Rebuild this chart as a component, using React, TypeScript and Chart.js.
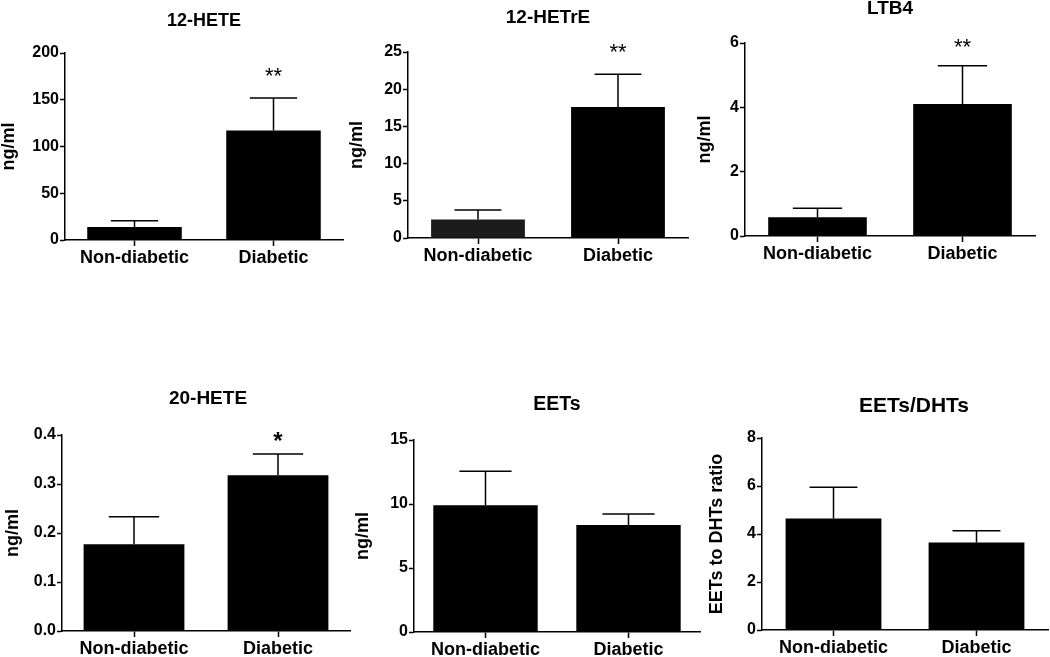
import React, { useEffect, useRef } from "react";
import { Chart, registerables } from "chart.js";

Chart.register(...registerables);

// ---------------- data ----------------
const categories = ["Non-diabetic", "Diabetic"];
const panelTitles = ["12-HETE", "12-HETrE", "LTB4", "20-HETE", "EETs", "EETs/DHTs"];
const yAxisTitles = ["ng/ml", "ng/ml", "ng/ml", "ng/ml", "ng/ml", "EETs to DHTs ratio"];

const hete12Mean = [14, 117];
const hete12Err = [6.5, 35];
const hetre12Mean = [2.5, 17.6];
const hetre12Err = [1.25, 4.4];
const ltb4Mean = [0.58, 4.1];
const ltb4Err = [0.28, 1.19];
const hete20Mean = [0.177, 0.318];
const hete20Err = [0.056, 0.043];
const eetsMean = [9.9, 8.35];
const eetsErr = [2.65, 0.87];
const ratioMean = [4.65, 3.65];
const ratioErr = [1.3, 0.49];

const significance = [
  ["", "**"],
  ["", "**"],
  ["", "**"],
  ["", "*"],
  ["", ""],
  ["", ""],
];

const yMax = [200, 25, 6, 0.4, 15, 8];
const yStep = [50, 5, 2, 0.1, 5, 2];

const means = [hete12Mean, hetre12Mean, ltb4Mean, hete20Mean, eetsMean, ratioMean];
const errs = [hete12Err, hetre12Err, ltb4Err, hete20Err, eetsErr, ratioErr];

// ---------------- layout / style ----------------
const W = 1050;
const H = 657;
const CANVAS_H = 740;
const Y_W = 40;
const X_H = 40;
const FONT = "'Liberation Sans', Arial, Helvetica, sans-serif";

const layouts = [
  { left: 65, top: 53, right: 343, bottom: 240, titleY: 21, titleDx: 0, titleSize: 18, yTitleX: 9, astOffset: 26, bar: 0.68, dec: 0 },
  { left: 408, top: 52, right: 688, bottom: 238, titleY: 18, titleDx: 0, titleSize: 19, yTitleX: 357, astOffset: 26, bar: 0.67, dec: 0 },
  { left: 745, top: 43, right: 1035, bottom: 236, titleY: 9, titleDx: 0, titleSize: 19, yTitleX: 705, astOffset: 23, bar: 0.68, dec: 0 },
  { left: 62, top: 435, right: 350, bottom: 631, titleY: 399, titleDx: 2, titleSize: 19, yTitleX: 13, astOffset: 19, bar: 0.7, dec: 1 },
  { left: 414, top: 440, right: 700, bottom: 632, titleY: 405, titleDx: 0, titleSize: 19.5, yTitleX: 363, astOffset: 20, bar: 0.73, dec: 0 },
  { left: 762, top: 438, right: 1048, bottom: 630, titleY: 406, titleDx: 9, titleSize: 21, yTitleX: 717, astOffset: 20, bar: 0.67, dec: 0 },
];

const barColors = [
  ["#000", "#000"],
  ["#1c1c1c", "#000"],
  ["#000", "#000"],
  ["#000", "#000"],
  ["#000", "#000"],
  ["#000", "#000"],
];

function makeConfig(i: number): any {
  const L = layouts[i];
  const mean = means[i];
  const err = errs[i];

  const annotate = {
    id: "annotate" + i,
    afterDatasetsDraw(chart: any) {
      const ctx = chart.ctx;
      const meta = chart.getDatasetMeta(0);
      const ys = chart.scales.y;
      ctx.save();
      ctx.strokeStyle = "#000";
      ctx.lineWidth = 1.5;
      meta.data.forEach((bar: any, k: number) => {
        const x = bar.x;
        const yTop = ys.getPixelForValue(mean[k]);
        const yErr = ys.getPixelForValue(mean[k] + err[k]);
        const cap = bar.width * 0.5;
        ctx.beginPath();
        ctx.moveTo(x, yTop);
        ctx.lineTo(x, yErr);
        ctx.moveTo(x - cap / 2, yErr);
        ctx.lineTo(x + cap / 2, yErr);
        ctx.stroke();
        const s = significance[i][k];
        if (s) {
          ctx.fillStyle = "#000";
          ctx.textAlign = "center";
          ctx.textBaseline = "middle";
          ctx.font = s === "*" ? `bold 24px ${FONT}` : `22px ${FONT}`;
          ctx.fillText(s, x, yErr - L.astOffset + (s === "*" ? 7 : 5));
        }
      });
      ctx.restore();
    },
    afterDraw(chart: any) {
      const ctx = chart.ctx;
      const ca = chart.chartArea;
      ctx.save();
      ctx.fillStyle = "#000";
      ctx.textAlign = "center";
      ctx.textBaseline = "middle";
      ctx.font = `bold ${L.titleSize}px ${FONT}`;
      ctx.fillText(panelTitles[i], (ca.left + ca.right) / 2 + L.titleDx, L.titleY);
      ctx.translate(L.yTitleX, (ca.top + ca.bottom) / 2);
      ctx.rotate(-Math.PI / 2);
      ctx.font = `bold 18px ${FONT}`;
      ctx.fillText(yAxisTitles[i], 0, 0);
      ctx.restore();
    },
  };

  return {
    type: "bar",
    data: {
      labels: categories,
      datasets: [
        {
          data: mean,
          backgroundColor: barColors[i],
          borderWidth: 0,
          barPercentage: L.bar,
          categoryPercentage: 1,
        },
      ],
    },
    options: {
      responsive: false,
      animation: false,
      devicePixelRatio: 1,
      events: [],
      layout: {
        padding: {
          left: L.left - Y_W,
          top: L.top,
          right: W - L.right,
          bottom: CANVAS_H - L.bottom - X_H,
        },
      },
      plugins: {
        legend: { display: false },
        title: { display: false },
        tooltip: { enabled: false },
      },
      scales: {
        x: {
          type: "category",
          offset: true,
          afterFit: (s: any) => {
            s.height = X_H;
          },
          grid: {
            display: true,
            drawOnChartArea: false,
            offset: false,
            tickLength: 6,
            tickWidth: 1.5,
            tickColor: "#000",
          },
          border: { display: true, color: "#000", width: 1.5 },
          ticks: {
            color: "#000",
            font: { family: FONT, size: 18, weight: "bold" },
            padding: 1,
            maxRotation: 0,
            autoSkip: false,
          },
        },
        y: {
          min: 0,
          max: yMax[i],
          afterFit: (s: any) => {
            s.width = Y_W;
          },
          grid: {
            display: true,
            drawOnChartArea: false,
            tickLength: 5,
            tickWidth: 1.5,
            tickColor: "#000",
          },
          border: { display: true, color: "#000", width: 1.5 },
          ticks: {
            stepSize: yStep[i],
            color: "#000",
            padding: 1,
            font: { family: FONT, size: 16, weight: "bold" },
            callback: (v: any) => Number(v).toFixed(L.dec),
          },
        },
      },
    },
    plugins: [annotate],
  };
}

export default function App() {
  const refs = useRef<(HTMLCanvasElement | null)[]>([]);
  useEffect(() => {
    const charts = layouts.map((_, i) => new Chart(refs.current[i] as HTMLCanvasElement, makeConfig(i)));
    return () => charts.forEach((c) => c.destroy());
  }, []);
  return (
    <div style={{ position: "fixed", left: 0, top: 0, width: W, height: H, background: "#fff", overflow: "hidden" }}>
      {layouts.map((_, i) => (
        <canvas
          key={i}
          ref={(el) => {
            refs.current[i] = el;
          }}
          width={W}
          height={CANVAS_H}
          style={{ position: "absolute", left: 0, top: 0, width: W, height: CANVAS_H }}
        />
      ))}
    </div>
  );
}
